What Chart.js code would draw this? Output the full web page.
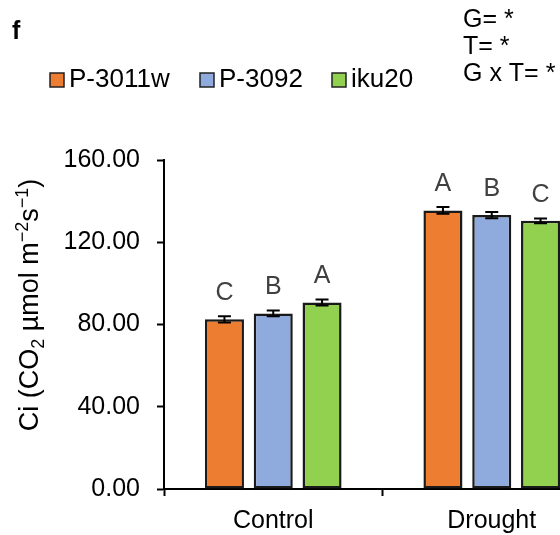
<!DOCTYPE html>
<html>
<head>
<meta charset="utf-8">
<script src="https://cdn.jsdelivr.net/npm/chart.js@4"></script>
<style>
    html, body { margin: 0; padding: 0; background: #fff; overflow: hidden; }
    #frame { width: 560px; height: 535px; overflow: hidden; position: relative; }
    #box { width: 620px; height: 535px; position: absolute; left: 0; top: 0; }
</style>
</head>
<body>
<div id="frame"><div id="box"><canvas id="ciChart"></canvas></div></div>
<script>
// Ci chart, panel f

const categories = ['Control', 'Drought'];
const seriesNames = ['P-3011w', 'P-3092', 'iku20'];
const seriesColors = ['#ED7D31', '#8FAADC', '#92D050'];
const ciP3011w = [82.5, 135.5];
const ciP3092 = [85.4, 133.2];
const ciIku20 = [90.7, 130.4];
const errP3011w = [1.5, 1.6];
const errP3092 = [1.4, 1.5];
const errIku20 = [1.5, 1.2];
const lettersP3011w = ['C', 'A'];
const lettersP3092 = ['B', 'B'];
const lettersIku20 = ['A', 'C'];
const yTicks = [0, 40, 80, 120, 160];
const statsLines = ['G= *', 'T= *', 'G x T= *'];

const FONT = '"Liberation Sans", Arial, sans-serif';

// error bars + significance letters
const barExtras = {
    id: 'barExtras',
    afterDatasetsDraw(chart) {
        const ctx = chart.ctx;
        const y = chart.scales.y;
        ctx.save();
        chart.data.datasets.forEach((ds, i) => {
            const meta = chart.getDatasetMeta(i);
            meta.data.forEach((bar, j) => {
                const v = ds.data[j];
                const e = ds.errors[j];
                const yTop = y.getPixelForValue(v + e);
                const yBot = y.getPixelForValue(v - e);
                ctx.strokeStyle = '#000';
                ctx.lineWidth = 2;
                ctx.beginPath();
                ctx.moveTo(bar.x, yTop); ctx.lineTo(bar.x, yBot);
                ctx.moveTo(bar.x - 6.5, yTop); ctx.lineTo(bar.x + 6.5, yTop);
                ctx.moveTo(bar.x - 6.5, yBot); ctx.lineTo(bar.x + 6.5, yBot);
                ctx.stroke();

                ctx.fillStyle = '#404040';
                ctx.font = '25px ' + FONT;
                ctx.textAlign = 'center';
                ctx.textBaseline = 'middle';
                ctx.fillText(ds.letters[j], bar.x, yTop - 23);
            });
        });
        ctx.restore();
    }
};

// legend, panel letter, stats, y title
const decorations = {
    id: 'decorations',
    afterDraw(chart) {
        const ctx = chart.ctx;
        ctx.save();
        ctx.fillStyle = '#000';
        ctx.textAlign = 'left';
        ctx.textBaseline = 'alphabetic';

        ctx.font = 'bold 25px ' + FONT;
        ctx.fillText('f', 12, 39);

        ctx.font = '25px ' + FONT;
        statsLines.forEach((t, i) => ctx.fillText(t, 463, 27 + i * 27));

        ctx.font = '26px ' + FONT;
        const legendX = [50, 200, 332];
        chart.data.datasets.forEach((ds, i) => {
            ctx.fillStyle = ds.backgroundColor;
            ctx.fillRect(legendX[i], 73, 14, 14);
            ctx.strokeStyle = '#222';
            ctx.lineWidth = 1.5;
            ctx.strokeRect(legendX[i], 73, 14, 14);
            ctx.fillStyle = '#000';
            ctx.fillText(ds.label, legendX[i] + 19, 87);
        });

        // rotated y axis title with sub/superscripts
        const parts = [
            ['Ci (CO', 27, 0],
            ['2', 18, 6],
            [' \u00b5mol m', 27, 0],
            ['\u22122', 18, -10],
            ['s', 27, 0],
            ['\u22121', 18, -10],
            [')', 27, 0]
        ];
        let total = 0;
        parts.forEach(p => { ctx.font = p[1] + 'px ' + FONT; total += ctx.measureText(p[0]).width; });
        ctx.translate(38, 305);
        ctx.rotate(-Math.PI / 2);
        let x = -total / 2;
        parts.forEach(p => {
            ctx.font = p[1] + 'px ' + FONT;
            ctx.fillText(p[0], x, p[2]);
            x += ctx.measureText(p[0]).width;
        });
        ctx.restore();
    }
};

const valueSets = [ciP3011w, ciP3092, ciIku20];
const errorSets = [errP3011w, errP3092, errIku20];
const letterSets = [lettersP3011w, lettersP3092, lettersIku20];

const ciChart = new Chart(document.getElementById('ciChart'), {
    type: 'bar',
    data: {
        labels: categories,
        datasets: seriesNames.map((name, i) => ({
            label: name,
            data: valueSets[i],
            errors: errorSets[i],
            letters: letterSets[i],
            backgroundColor: seriesColors[i],
            borderColor: '#1a1a1a',
            borderWidth: 2.5,
            borderSkipped: false,
            barPercentage: 0.8,
            categoryPercentage: 0.67
        }))
    },
    options: {
        responsive: true,
        maintainAspectRatio: false,
        animation: false,
        layout: { padding: { top: 160, right: 19, left: 0, bottom: 0 } },
        plugins: {
            legend: { display: false },
            tooltip: { enabled: false }
        },
        scales: {
            x: {
                grid: { drawOnChartArea: false, tickLength: 7, tickColor: '#000', tickWidth: 2 },
                border: { color: '#000', width: 2 },
                ticks: { color: '#000', font: { family: FONT, size: 25 }, padding: 10 },
                afterFit(scale) { scale.height = 46; }
            },
            y: {
                min: 0,
                max: 160,
                afterBuildTicks(scale) { scale.ticks = yTicks.map(v => ({ value: v })); },
                grid: { drawOnChartArea: false, tickLength: 7, tickColor: '#000', tickWidth: 2 },
                border: { color: '#000', width: 2 },
                ticks: {
                    color: '#000',
                    font: { family: FONT, size: 25 },
                    padding: 17,
                    callback: v => Number(v).toFixed(2)
                },
                afterFit(scale) { scale.width = 164; }
            }
        }
    },
    plugins: [barExtras, decorations]
});
</script>
</body>
</html>
